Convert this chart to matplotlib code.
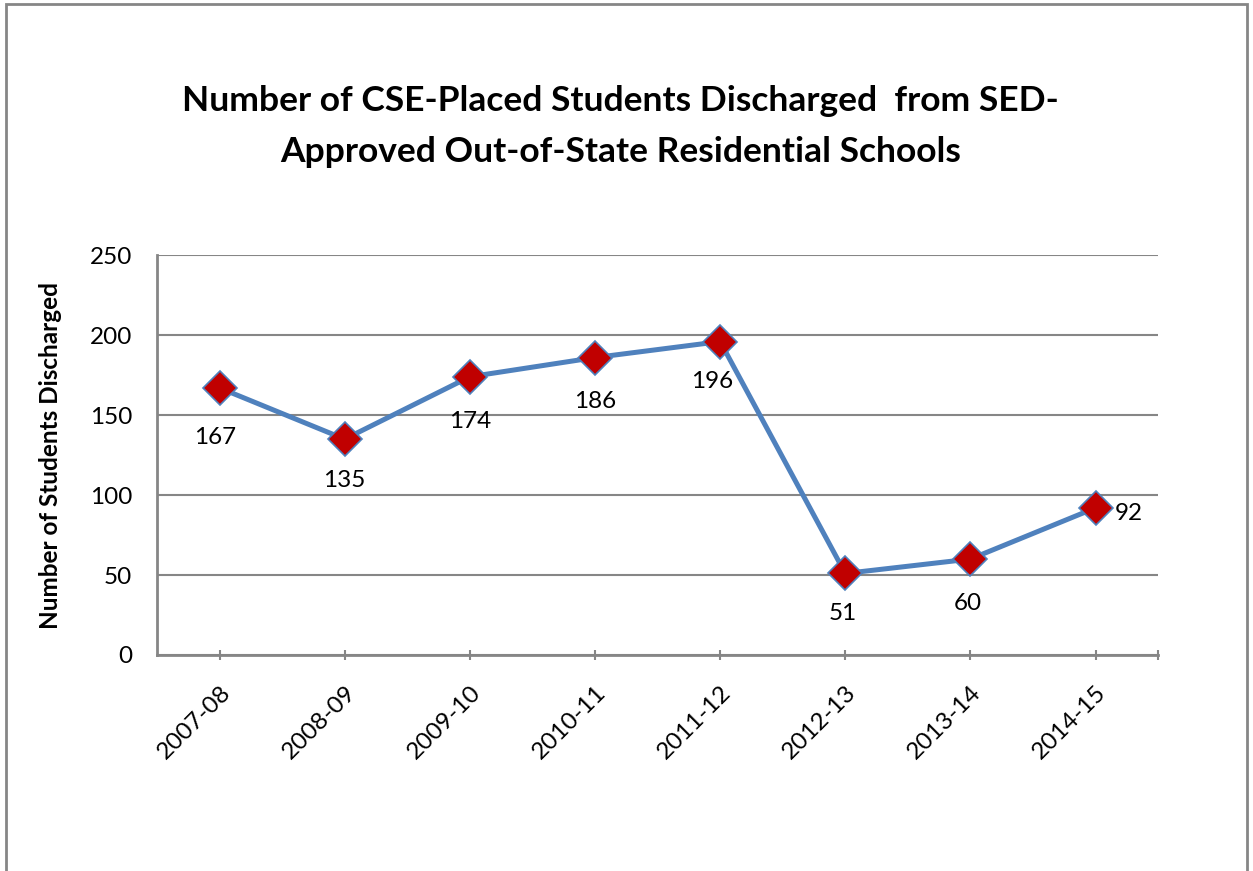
import matplotlib.pyplot as plt
from matplotlib.patches import Rectangle

plt.rcParams['font.family'] = ['Lato', 'DejaVu Sans']

years = ['2007-08', '2008-09', '2009-10', '2010-11', '2011-12', '2012-13', '2013-14', '2014-15']
discharged = [167, 135, 174, 186, 196, 51, 60, 92]
# where each data label sits relative to its point (offset points)
label_pos = [(-3, -36), (0, -30), (0, -32), (0, -32), (-6, -29), (-2, -29), (-2, -32), (14, -4)]

fig = plt.figure(figsize=(12.53, 8.71), dpi=100)
ax = fig.add_axes([0.1253, 0.248, 0.799, 0.459])

grey = '#868686'
x = list(range(len(years)))
ax.plot(x, discharged, color='#4F81BD', linewidth=3.6, marker='D', markersize=17,
        markerfacecolor='#C00000', markeredgecolor='#4F81BD', markeredgewidth=1.2, zorder=3)

for i, (v, off) in enumerate(zip(discharged, label_pos)):
    ha = 'left' if off[0] > 5 else 'center'
    ax.annotate(str(v), (i, v), xytext=off, textcoords='offset points',
                ha=ha, va='center', fontsize=17.5)

ax.set_xlim(-0.5, 7.5)
ax.set_ylim(0, 250)
ax.set_yticks([0, 50, 100, 150, 200, 250])
ax.set_xticks(x + [7.5])
ax.set_xticklabels(years + [''], rotation=45, ha='right', va='top', rotation_mode='anchor')
ax.tick_params(axis='x', length=7, width=1.5, color=grey, direction='inout', labelsize=17.5, pad=16)
ax.tick_params(axis='y', length=0, labelsize=17.5, pad=18)

ax.grid(axis='y', color=grey, linewidth=1.5)
ax.set_axisbelow(True)
for s in ['top', 'right']:
    ax.spines[s].set_visible(False)
for s in ['left', 'bottom']:
    ax.spines[s].set_color(grey)
    ax.spines[s].set_linewidth(2)

ax.set_ylabel('Number of Students Discharged', fontsize=17.5, fontweight='bold', labelpad=20)

fig.text(0.495, 0.855, 'Number of CSE-Placed Students Discharged  from SED-\nApproved Out-of-State Residential Schools',
         ha='center', va='center', fontsize=25.5, fontweight='bold', linespacing=1.75)

fig.patches.append(Rectangle((0.005, -0.01), 0.99, 1.005, transform=fig.transFigure,
                             fill=False, edgecolor=grey, linewidth=2))

fig.savefig('out.png', dpi=100)
